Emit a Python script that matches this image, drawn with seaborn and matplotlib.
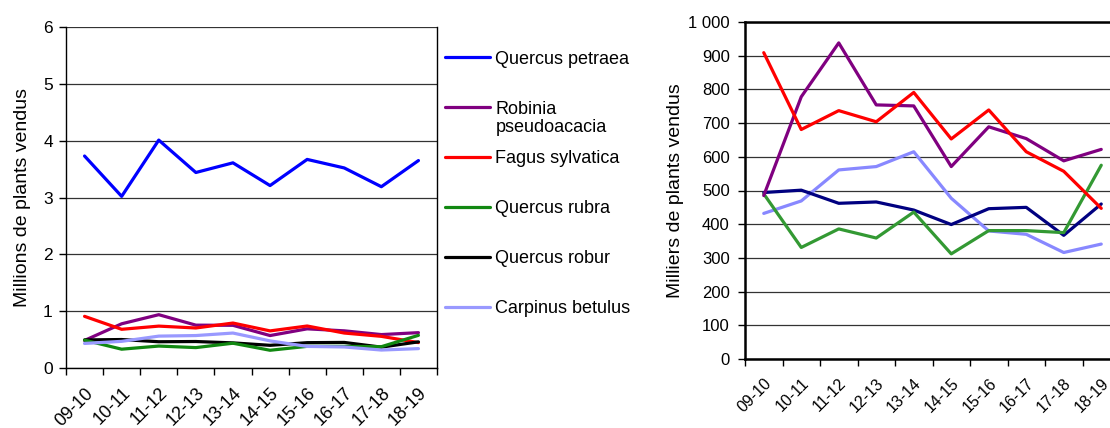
import matplotlib
matplotlib.use("Agg")
import matplotlib.pyplot as plt
import seaborn as sns
import pandas as pd
from matplotlib.ticker import FixedLocator, FixedFormatter, NullFormatter

# ---------------- data ----------------
seasons = ["09-10", "10-11", "11-12", "12-13", "13-14",
           "14-15", "15-16", "16-17", "17-18", "18-19"]
species = ["Quercus petraea", "Robinia pseudoacacia", "Fagus sylvatica",
           "Quercus rubra", "Quercus robur", "Carpinus betulus"]
legend_labels = ["Quercus petraea", "Robinia", "Fagus sylvatica",
                 "Quercus rubra", "Quercus robur", "Carpinus betulus"]
legend_label_cont = "pseudoacacia"

# millions of plants (left panel)
quercus_petraea_m = [3.73, 3.02, 4.01, 3.44, 3.61, 3.21, 3.67, 3.52, 3.19, 3.65]

# thousands of plants (right panel)
robinia_k = [485, 778, 938, 754, 751, 571, 689, 654, 588, 622]
fagus_k = [909, 681, 737, 704, 791, 653, 739, 615, 557, 447]
rubra_k = [490, 331, 386, 359, 436, 312, 381, 381, 375, 575]
robur_k = [494, 501, 462, 466, 442, 399, 446, 450, 367, 460]
carpinus_k = [432, 469, 561, 571, 615, 477, 380, 370, 316, 341]

left_yticks = [0, 1, 2, 3, 4, 5, 6]
right_yticks = [0, 100, 200, 300, 400, 500, 600, 700, 800, 900, 1000]
right_yticklabels = ["0", "100", "200", "300", "400", "500", "600",
                     "700", "800", "900", "1 000"]

left_colors = {"Quercus petraea": "#0000FF", "Robinia pseudoacacia": "#800080",
               "Fagus sylvatica": "#FF0000", "Quercus rubra": "#118811",
               "Quercus robur": "#000000", "Carpinus betulus": "#9999FF"}
right_colors = {"Robinia pseudoacacia": "#800080", "Fagus sylvatica": "#FF0000",
                "Quercus rubra": "#339933", "Quercus robur": "#000080",
                "Carpinus betulus": "#8888FF"}

# ---------------- tables ----------------
right_series = {"Robinia pseudoacacia": robinia_k, "Fagus sylvatica": fagus_k,
                "Quercus rubra": rubra_k, "Quercus robur": robur_k,
                "Carpinus betulus": carpinus_k}
rows_r = []
for sp, vals in right_series.items():
    for s, v in zip(seasons, vals):
        rows_r.append({"season": s, "species": sp, "value": v})
df_right = pd.DataFrame(rows_r)

rows_l = [{"season": s, "species": "Quercus petraea", "value": v}
          for s, v in zip(seasons, quercus_petraea_m)]
for sp, vals in right_series.items():
    for s, v in zip(seasons, vals):
        rows_l.append({"season": s, "species": sp, "value": v / 1000.0})
df_left = pd.DataFrame(rows_l)

# ---------------- style ----------------
sns.set_theme(style="white")
plt.rcParams["font.family"] = ["Liberation Sans", "DejaVu Sans"]
plt.rcParams["axes.unicode_minus"] = False

fig = plt.figure(figsize=(11.10, 4.28), dpi=100)
axL = fig.add_axes([66 / 1110, 1 - 368 / 428, 371 / 1110, 341 / 428])
axR = fig.add_axes([745 / 1110, 1 - 359 / 428, 375 / 1110, 337 / 428])

order_l = ["Quercus petraea", "Robinia pseudoacacia", "Fagus sylvatica",
           "Quercus robur", "Quercus rubra", "Carpinus betulus"]
order_r = ["Carpinus betulus", "Quercus robur", "Quercus rubra",
           "Robinia pseudoacacia", "Fagus sylvatica"]

sns.lineplot(data=df_left, x="season", y="value", hue="species",
             hue_order=order_l, palette=left_colors, linewidth=2.3,
             ax=axL, legend=False, sort=False)
sns.lineplot(data=df_right, x="season", y="value", hue="species",
             hue_order=order_r, palette=right_colors, linewidth=2.3,
             ax=axR, legend=False, sort=False)


def style_axis(ax, yticks, ylim, ylabel, yticklabels=None, fs_y=12.5,
               fs_x=13, ypad=4.5, ylabelpad=6):
    ax.set_xlim(-0.5, len(seasons) - 0.5)
    ax.set_ylim(*ylim)
    ax.set_yticks(yticks)
    if yticklabels is not None:
        ax.set_yticklabels(yticklabels)
    ax.grid(axis="y", color="#333333", linewidth=0.9)
    ax.grid(axis="x", visible=False)
    ax.set_axisbelow(True)
    ax.xaxis.set_major_locator(FixedLocator([i - 0.5 for i in range(len(seasons) + 1)]))
    ax.xaxis.set_major_formatter(NullFormatter())
    ax.xaxis.set_minor_locator(FixedLocator(list(range(len(seasons)))))
    ax.xaxis.set_minor_formatter(FixedFormatter(seasons))
    ax.tick_params(axis="x", which="major", direction="out", length=5,
                   width=1, color="black", bottom=True)
    ax.tick_params(axis="x", which="minor", length=0, labelsize=fs_x, pad=12,
                   labelcolor="black")
    for lab in ax.get_xticklabels(minor=True):
        lab.set_rotation(45)
        lab.set_ha("right")
        lab.set_rotation_mode("anchor")
    ax.tick_params(axis="y", direction="out", length=5, width=1, pad=ypad,
                   color="black", left=True, labelsize=fs_y, labelcolor="black")
    ax.set_xlabel("")
    ax.set_ylabel(ylabel, fontsize=14, color="black", labelpad=ylabelpad)
    for sp in ax.spines.values():
        sp.set_color("black")


style_axis(axL, left_yticks, (0, 6), "Millions de plants vendus",
           fs_y=12.5, fs_x=13, ypad=4.5, ylabelpad=9)
for sp in ["left", "bottom", "right"]:
    axL.spines[sp].set_linewidth(1.0)
axL.spines["top"].set_visible(False)

style_axis(axR, right_yticks, (0, 1000), "Milliers de plants vendus",
           yticklabels=right_yticklabels, fs_y=12, fs_x=11.5, ypad=6,
           ylabelpad=3)
axR.spines["left"].set_linewidth(1.8)
axR.spines["bottom"].set_linewidth(1.8)
axR.spines["top"].set_linewidth(1.8)
axR.spines["right"].set_visible(False)

# legend (between the panels)
handles = [plt.Line2D([], [], color=left_colors[s], linewidth=2.3) for s in species]
leg = fig.legend(handles, legend_labels, loc="upper left",
                 bbox_to_anchor=(438 / 1110, 1 - 43.5 / 428), frameon=False,
                 fontsize=13, handlelength=2.5, handletextpad=0.28,
                 labelspacing=1.82, borderaxespad=0, labelcolor="black")

fig.canvas.draw()
rob = leg.get_texts()[1].get_window_extent()
x0, _ = fig.transFigure.inverted().transform((rob.x0, rob.y0))
fig.text(x0, 1 - 128 / 428, legend_label_cont, fontsize=13, color="black",
         ha="left", va="center")

fig.savefig("out.png", dpi=100)
